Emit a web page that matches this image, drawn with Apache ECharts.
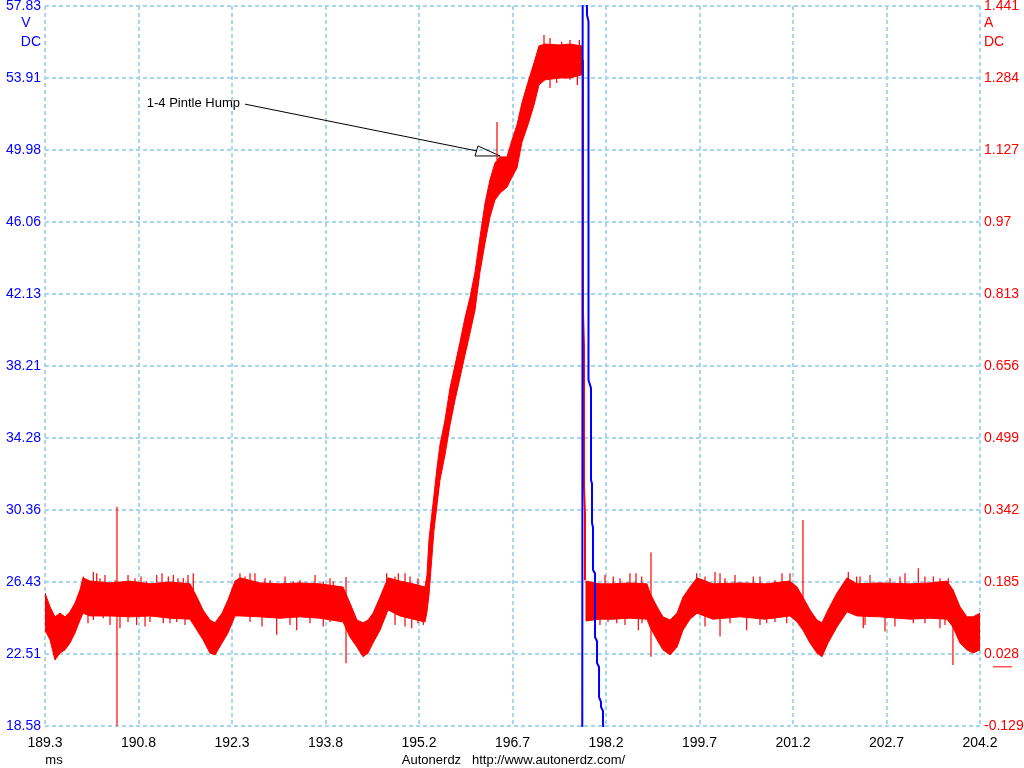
<!DOCTYPE html>
<html><head><meta charset="utf-8">
<script src="https://cdn.jsdelivr.net/npm/echarts@6/dist/echarts.min.js"></script>
<style>html,body{margin:0;padding:0;background:#fff}#c{width:1024px;height:768px}</style>
</head><body><div id="c"></div>
<script>
// ---- tick labels ----
const xTickLabels = ['189.3','190.8','192.3','193.8','195.2','196.7','198.2','199.7','201.2','202.7','204.2'];
const vTickLabels = ['18.58','22.51','26.43','30.36','34.28','38.21','42.13','46.06','49.98','53.91','57.83'];
const aTickLabels = ['-0.129','0.028','0.185','0.342','0.499','0.656','0.813','0.97','1.127','1.284','1.441'];
const X_MIN = 189.3, X_MAX = 204.2;   // ms
const V_MIN = 18.58, V_MAX = 57.83;   // V DC
const A_MIN = -0.129, A_MAX = 1.441;  // A DC

// ---- red current trace (A): noise band envelope, before injector shut-off ----
const redPreT = [189.300,189.380,189.459,189.539,189.619,189.698,189.778,189.858,189.906,190.017,190.336,190.655,190.973,191.292,191.611,191.722,191.818,191.929,192.009,192.121,192.216,192.328,192.407,192.726,193.045,193.364,193.682,194.049,194.160,194.272,194.368,194.447,194.527,194.639,194.766,194.957,195.164,195.356,195.387,195.419,195.499,195.547,195.594,195.674,195.754,195.834,195.913,195.993,196.073,196.153,196.232,196.312,196.391,196.471,196.551,196.662,196.742,196.822,196.901,196.997,197.093,197.172,197.268,197.507,197.667,197.857];
const redPreHi = [0.161,0.131,0.109,0.117,0.109,0.120,0.139,0.168,0.194,0.187,0.183,0.187,0.181,0.185,0.181,0.152,0.124,0.102,0.096,0.117,0.146,0.187,0.194,0.183,0.181,0.183,0.181,0.174,0.139,0.102,0.096,0.102,0.117,0.152,0.194,0.187,0.181,0.174,0.200,0.277,0.375,0.434,0.484,0.538,0.608,0.658,0.708,0.761,0.806,0.861,0.937,1.011,1.062,1.099,1.112,1.112,1.149,1.182,1.230,1.275,1.317,1.354,1.358,1.356,1.358,1.354];
const redPreLo = [0.080,0.059,0.015,0.030,0.037,0.052,0.074,0.102,0.117,0.111,0.111,0.109,0.111,0.106,0.104,0.080,0.059,0.030,0.026,0.052,0.074,0.111,0.111,0.109,0.106,0.109,0.106,0.098,0.065,0.043,0.022,0.030,0.052,0.080,0.124,0.111,0.104,0.098,0.120,0.157,0.298,0.353,0.407,0.462,0.527,0.582,0.630,0.680,0.728,0.778,0.861,0.924,0.981,1.018,1.033,1.046,1.068,1.088,1.144,1.182,1.225,1.269,1.280,1.284,1.284,1.291];

// ---- red current trace (A): noise band envelope, after shut-off ----
const redPostT = [197.921,198.144,198.352,198.622,198.893,198.941,199.053,199.148,199.260,199.371,199.467,199.579,199.690,199.945,200.375,200.774,201.172,201.284,201.379,201.491,201.602,201.682,201.778,201.921,202.081,202.240,202.606,203.085,203.403,203.674,203.769,203.881,203.992,204.088,204.200];
const redPostHi = [0.187,0.181,0.181,0.183,0.181,0.161,0.131,0.109,0.102,0.117,0.152,0.174,0.194,0.181,0.183,0.181,0.187,0.174,0.152,0.124,0.102,0.096,0.124,0.161,0.194,0.181,0.183,0.181,0.183,0.187,0.168,0.131,0.109,0.109,0.117];
const redPostLo = [0.100,0.104,0.104,0.106,0.104,0.087,0.059,0.037,0.026,0.043,0.080,0.104,0.117,0.104,0.109,0.104,0.111,0.098,0.080,0.052,0.030,0.022,0.052,0.087,0.120,0.111,0.109,0.104,0.106,0.104,0.087,0.052,0.037,0.030,0.037];

// ---- red current trace (A): single-sample spikes (time, top, bottom) ----
const spikeT  = [190.447,194.097,196.503,198.957,201.379,203.769,
  189.910,190.070,190.124,190.256,190.416,190.575,190.734,190.921,191.080,191.265,191.345,191.504,191.663,192.407,192.567,192.886,193.257,193.470,193.735,193.894,194.745,194.930,195.117,
  198.356,198.622,198.809,199.685,199.977,200.057,200.587,201.172,202.101,202.235,202.925,203.217,203.456,203.695,
  190.176,190.623,190.830,191.165,191.419,191.579,192.487,192.646,192.806,193.125,193.364,193.603,193.842,194.878,195.037,195.244,
  198.224,198.463,198.718,199.818,200.136,200.296,200.694,200.933,201.045,202.288,202.447,202.766,203.005,203.323,203.563,
  190.070,190.229,190.495,190.761,190.973,191.185,191.399,192.992,193.311,193.735,195.144,195.329,
  189.985,190.336,190.623,190.894,191.292,191.531,192.567,192.758,193.204,193.523,193.842,194.878,195.037,195.244,
  198.144,198.411,198.755,200.057,200.482,200.801,201.120,202.340,202.686,203.137,203.562,
  198.272,198.543,198.814,199.818,200.216,200.694,200.933,202.368,202.845,203.323,203.642,
  197.252,197.348,197.534,197.667,197.815,197.348,197.454,197.667,197.783];
const spikeHi = [0.349,0.196,1.188,0.250,0.320,0.168,
  0.197,0.207,0.204,0.200,0.189,0.186,0.193,0.186,0.200,0.197,0.200,0.193,0.204,0.204,0.204,0.189,0.186,0.182,0.186,0.186,0.204,0.204,0.197,
  0.197,0.204,0.197,0.204,0.207,0.204,0.197,0.204,0.207,0.197,0.197,0.215,0.197,0.193,
  0.193,0.200,0.197,0.204,0.193,0.200,0.197,0.204,0.193,0.197,0.189,0.200,0.193,0.197,0.204,0.193,
  0.200,0.193,0.204,0.197,0.193,0.200,0.197,0.189,0.204,0.197,0.200,0.193,0.204,0.197,0.193,
  0.146,0.146,0.146,0.146,0.146,0.146,0.146,0.146,0.146,0.146,0.146,0.146,
  0.146,0.146,0.146,0.146,0.146,0.146,0.146,0.146,0.146,0.146,0.146,0.146,0.146,0.146,
  0.146,0.146,0.146,0.146,0.146,0.146,0.146,0.146,0.146,0.146,0.146,
  0.146,0.146,0.146,0.146,0.146,0.146,0.146,0.146,0.146,0.146,0.146,
  1.378,1.371,1.363,1.367,1.367,1.319,1.319,1.319,1.319];
const spikeLo = [-0.129,0.008,1.105,0.022,0.146,0.004,
  0.146,0.146,0.146,0.146,0.146,0.146,0.146,0.146,0.146,0.146,0.146,0.146,0.146,0.146,0.146,0.146,0.146,0.146,0.146,0.146,0.146,0.146,0.146,
  0.146,0.146,0.146,0.146,0.146,0.146,0.146,0.146,0.146,0.146,0.146,0.146,0.146,0.146,
  0.146,0.146,0.146,0.146,0.146,0.146,0.146,0.146,0.146,0.146,0.146,0.146,0.146,0.146,0.146,0.146,
  0.146,0.146,0.146,0.146,0.146,0.146,0.146,0.146,0.146,0.146,0.146,0.146,0.146,0.146,0.146,
  0.102,0.106,0.084,0.091,0.098,0.095,0.098,0.070,0.080,0.088,0.084,0.091,
  0.095,0.091,0.098,0.088,0.095,0.091,0.098,0.088,0.091,0.095,0.098,0.091,0.088,0.095,
  0.091,0.095,0.080,0.066,0.080,0.095,0.095,0.084,0.077,0.095,0.084,
  0.098,0.091,0.095,0.088,0.095,0.091,0.098,0.091,0.088,0.095,0.091,
  1.319,1.319,1.319,1.319,1.319,1.262,1.273,1.280,1.269];

// ---- red current fall at shut-off ----
const dropT = [197.873,197.873,197.889,197.889,197.905,197.905];
const dropA = [1.323,0.774,0.700,0.392,0.335,0.189];

// ---- blue voltage trace (V): flyback spike ----
const blueT = [197.860,197.873,197.873,197.937,197.937,197.961,197.961,198.001,198.001,198.017,198.017,198.033,198.033,198.065,198.065,198.097,198.097,198.129,198.129,198.160,198.160,198.192,198.192,198.216];
const blueV = [5,5,90,90,57.34,57.0,37.44,37.0,31.99,31.8,29.65,29.4,27.08,26.9,23.43,23.2,22.01,21.8,20.16,19.9,19.62,19.4,18.74,17.5];

// ---- annotation ----
const annoText = '1-4 Pintle Hump';
const annoFrom = [192.487, 1.227];   // ms, A
const annoTip  = [196.551, 1.114];   // ms, A

// ---- scale helpers (axes are 10 screen divisions like the scope) ----
const xd = t => (t - X_MIN) / (X_MAX - X_MIN) * 10;
const vd = v => (v - V_MIN) / (V_MAX - V_MIN) * 10;
const ad = a => (a - A_MIN) / (A_MAX - A_MIN) * 10;

const GRID = '#a9d6ec';
const FONT = 'Liberation Sans, Arial, sans-serif';
const RED = '#ff0000', BLUE = '#0000ff';

function band(T, HI, LO) {
  const data = T.map((t, i) => [xd(t), ad(HI[i]), ad(LO[i])]);
  return {
    type: 'custom', data, clip: true, z: 2, silent: true,
    encode: { x: 0, y: [1, 2] },
    renderItem(params, api) {
      if (params.dataIndex !== 0) return null;
      const top = data.map(d => api.coord([d[0], d[1]]));
      const bot = data.slice().reverse().map(d => api.coord([d[0], d[2]]));
      return { type: 'polygon', shape: { points: top.concat(bot) },
        style: { fill: RED, stroke: RED, lineWidth: 1 } };
    }
  };
}

const chart = echarts.init(document.getElementById('c'), null, { renderer: 'canvas' });
const axisY = (labels, color, pos, split) => ({
  type: 'value', position: pos, min: 0, max: 10, interval: 1,
  axisLine: { show: false }, axisTick: { show: false },
  splitLine: { show: split, lineStyle: { color: GRID, type: [4, 3], width: 2 } },
  axisLabel: { formatter: v => labels[Math.round(v)], color, fontSize: 14, fontFamily: FONT, margin: 4 }
});

chart.setOption({
  animation: false,
  backgroundColor: '#ffffff',
  grid: { left: 45, right: 44, top: 6, bottom: 42, containLabel: false, outerBoundsMode: 'none' },
  xAxis: {
    type: 'value', min: 0, max: 10, interval: 1,
    axisLine: { show: false }, axisTick: { show: false },
    splitLine: { show: true, lineStyle: { color: GRID, type: [4, 3], width: 2 } },
    axisLabel: { formatter: v => xTickLabels[Math.round(v)], color: '#000', fontSize: 14, fontFamily: FONT, margin: 10 }
  },
  yAxis: [axisY(vTickLabels, BLUE, 'left', true), axisY(aTickLabels, RED, 'right', false)],
  series: [
    band(redPreT, redPreHi, redPreLo),
    band(redPostT, redPostHi, redPostLo),
    {
      type: 'custom', clip: true, z: 3, silent: true,
      data: spikeT.map((t, i) => [xd(t), ad(spikeHi[i]), ad(spikeLo[i])]),
      encode: { x: 0, y: [1, 2] },
      renderItem(params, api) {
        const a = api.coord([api.value(0), api.value(1)]);
        const b = api.coord([api.value(0), api.value(2)]);
        return { type: 'line', shape: { x1: a[0], y1: a[1], x2: b[0], y2: b[1] },
          style: { stroke: RED, lineWidth: 1.2 } };
      }
    },
    {
      type: 'line', z: 3, showSymbol: false, clip: true, silent: true,
      data: dropT.map((t, i) => [xd(t), ad(dropA[i])]),
      lineStyle: { color: RED, width: 2 }
    },
    {
      type: 'line', z: 4, showSymbol: false, clip: true, silent: true,
      data: blueT.map((t, i) => [xd(t), vd(blueV[i])]),
      lineStyle: { color: BLUE, width: 2 }
    }
  ]
});

// ---- annotation + labels placed through the axis scales ----
const px = (t, a) => chart.convertToPixel({ gridIndex: 0 }, [xd(t), ad(a)]);
const tl = px(X_MIN, A_MAX), br = px(X_MAX, A_MIN);
const from = px(annoFrom[0], annoFrom[1]);
const tip = px(annoTip[0], annoTip[1]);
const zero = px(X_MAX, 0);
const txt = (x, y, s, color, align, size) => ({
  type: 'text', x, y, silent: true,
  style: { text: s, fill: color, font: (size || 14) + 'px ' + FONT, align: align, verticalAlign: 'middle' }
});
chart.setOption({
  graphic: [
    txt(tl[0] - 19, tl[1] + 17, 'V', BLUE, 'center'),
    txt(tl[0] - 4, tl[1] + 36, 'DC', BLUE, 'right'),
    txt(br[0] + 4, tl[1] + 17, 'A', RED, 'left'),
    txt(br[0] + 4, tl[1] + 36, 'DC', RED, 'left'),
    txt(tl[0] + 9, br[1] + 34, 'ms', '#000', 'center', 13),
    txt((tl[0] + br[0]) / 2 + 1, br[1] + 34, 'Autonerdz   http://www.autonerdz.com/', '#000', 'center', 13),
    txt(from[0] - 5, from[1] - 1, annoText, '#000', 'right', 13),
    { type: 'line', silent: true, shape: { x1: from[0], y1: from[1], x2: tip[0] - 23, y2: tip[1] - 5 },
      style: { stroke: '#000', lineWidth: 1 } },
    { type: 'polygon', silent: true, shape: { points: [[tip[0], tip[1]], [tip[0] - 22, tip[1] - 10], [tip[0] - 25, tip[1]]] },
      style: { stroke: '#000', fill: 'rgba(255,255,255,0)', lineWidth: 1 } },
    { type: 'line', silent: true, shape: { x1: zero[0] + 13, y1: zero[1], x2: zero[0] + 32, y2: zero[1] },
      style: { stroke: RED, lineWidth: 1 } }
  ]
});
</script>
</body></html>
